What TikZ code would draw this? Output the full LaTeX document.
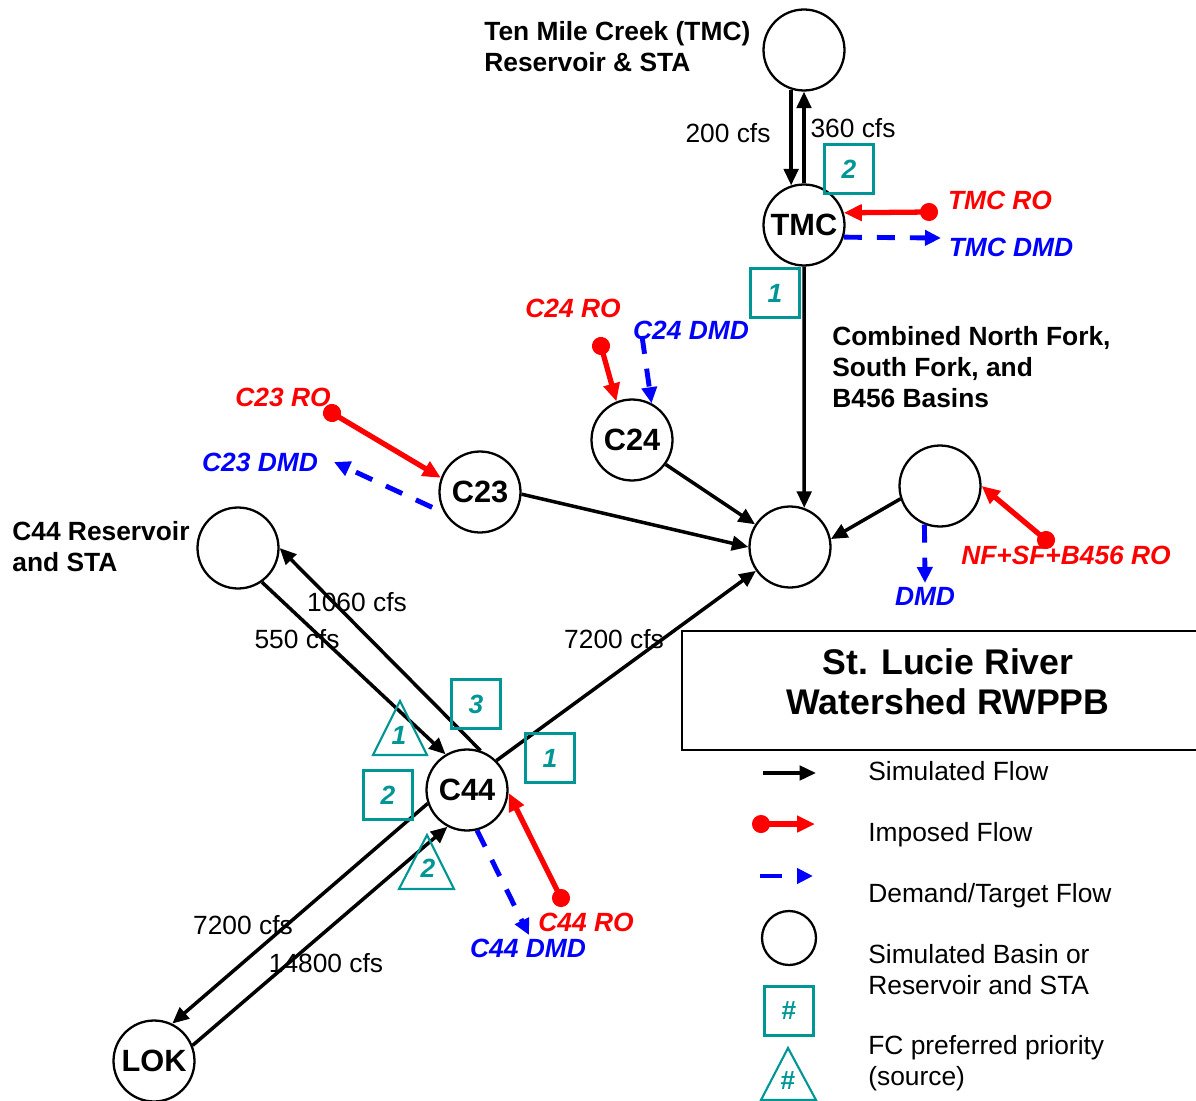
\documentclass[tikz,border=0pt]{standalone}
\usepackage{fontspec}
\setmainfont{Liberation Sans}
\usetikzlibrary{arrows.meta}
\definecolor{tealc}{RGB}{0,150,150}
\begin{document}
\begin{tikzpicture}[x=0.02cm,y=-0.02cm,
  basin/.style={circle,draw,line width=1.3pt,minimum size=1.62cm,inner sep=0pt,font=\fontsize{17.5}{20}\selectfont\bfseries},
  sim/.style={line width=2pt,-{Triangle[length=0.33cm,width=0.29cm]}},
  imp/.style={red,line width=3pt,shorten <=-0.18cm,{Circle[length=0.36cm]}-{Triangle[length=0.36cm,width=0.32cm]}},
  dmd/.style={blue,line width=2.8pt,dash pattern=on 0.36cm off 0.3cm,-{Triangle[length=0.32cm,width=0.3cm]}},
  lbl/.style={font=\fontsize{15}{17.6}\selectfont,inner sep=0pt,text height=0.716em,text depth=0pt,yshift=-1.6pt},
  mlbl/.style={font=\fontsize{15}{17.6}\selectfont,inner sep=0pt,align=left},
  blbl/.style={font=\fontsize{15}{17.6}\selectfont\bfseries,inner sep=0pt,align=left},
  rolbl/.style={text=red,font=\fontsize{15}{17.6}\selectfont\bfseries\itshape,inner sep=0pt,text height=0.716em,text depth=0pt,yshift=-1.6pt},
  dmdlbl/.style={text=blue,font=\fontsize{15}{17.6}\selectfont\bfseries\itshape,inner sep=0pt,text height=0.716em,text depth=0pt,yshift=-1.6pt},
  pbox/.style={draw=tealc,line width=1.2pt,minimum size=0.98cm,inner sep=0pt,text=tealc,font=\fontsize{15}{17}\selectfont\bfseries\itshape},
  ptri/.style={draw=tealc,line width=1.2pt},
  pnum/.style={text=tealc,inner sep=0pt,font=\fontsize{15}{17}\selectfont\bfseries\itshape}
]
\useasboundingbox (0,0) rectangle (1196,1101);

% basins
\node[basin] (tmcres) at (804,50) {};
\node[basin] (tmc) at (804,225) {TMC};
\node[basin] (c24) at (632,440) {C24};
\node[basin] (c23) at (480,492) {C23};
\node[basin] (junc) at (790,547) {};
\node[basin] (nf) at (940,486) {};
\node[basin] (c44res) at (238,548) {};
\node[basin] (c44) at (467,790) {C44};
\node[basin] (lok) at (154,1061) {LOK};

% texts
\node[blbl,anchor=west] (tmctxt) at (484,47) {Ten Mile Creek (TMC)\\Reservoir \& STA};
\node[blbl,anchor=west] (cnftxt) at (832,367) {Combined North Fork,\\South Fork, and\\B456 Basins};
\node[blbl,anchor=west] (c44txt) at (12,547) {C44 Reservoir\\and STA};

% TMC
\draw[sim] (tmcres.-108) -- (tmc.108);
\draw[sim] (tmc.90) -- (tmcres.-90);
\node[lbl] (l200) at (728,133) {200 cfs};
\node[lbl] (l360) at (853,128) {360 cfs};
\draw[sim] (tmc.-90) -- (junc.70);
\coordinate (tmcro) at (929,212);
\draw[imp] (tmcro) -- (tmc.17);
\node[rolbl] (tmcrot) at (1000,200) {TMC RO};
\coordinate (tmcd) at (941,238);
\draw[dmd] (tmc.-17) -- (tmcd);
\node[dmdlbl] (tmcdt) at (1011,247) {TMC DMD};
\node[pbox] (b2a) at (849,169) {2};
\node[pbox] (b1a) at (775,293) {1};

% C24
\coordinate (c24ro) at (601,346);
\draw[imp] (c24ro) -- (c24.112);
\coordinate (c24d) at (642,336);
\draw[dmd] (c24d) -- (c24.62);
\node[rolbl] (c24rot) at (573,308) {C24 RO};
\node[dmdlbl] (c24dt) at (691,330) {C24 DMD};
\draw[sim] (c24.-36) -- (junc.147);

% C23
\coordinate (c23ro) at (332,413);
\draw[imp] (c23ro) -- (c23.160);
\coordinate (c23d) at (334,462);
\draw[dmd,shorten <=0.26cm] (c23.210) -- (c23d);
\node[rolbl] (c23rot) at (283,397) {C23 RO};
\node[dmdlbl] (c23dt) at (260,462) {C23 DMD};
\draw[sim] (c23.-3) -- (junc.180);

% NF
\draw[sim] (nf.198) -- (junc.11);
\coordinate (nfro) at (1046,540);
\draw[imp] (nfro) -- (nf.0);
\coordinate (nfd) at (925,583);
\draw[dmd] (nf.-112) -- (nfd);
\node[rolbl] (nfrot) at (1066,555) {NF+SF+B456 RO};
\node[dmdlbl] (nfdt) at (925,596) {DMD};

% C44
\draw[sim] (c44res.-55) -- (c44.121);
\draw[sim] (c44.71) -- (c44res.0);
\draw[sim] (c44.45) -- (junc.215);
\draw[sim] (c44.199) -- (lok.64);
\draw[sim] (lok.22) -- (c44.242);
\node[lbl] (l1060) at (357,602) {1060 cfs};
\node[lbl] (l550) at (297,639) {550 cfs};
\node[lbl] (l7200a) at (614,639) {7200 cfs};
\node[lbl] (l7200b) at (243,925) {7200 cfs};
\node[lbl] (l14800) at (326,963) {14800 cfs};
\coordinate (c44ro) at (561,898);
\draw[imp] (c44ro) -- (c44.-4);
\coordinate (c44d) at (529,935);
\draw[dmd] (c44.-76) -- (c44d);
\node[rolbl] (c44rot) at (586,922) {C44 RO};
\node[dmdlbl] (c44dt) at (528,948) {C44 DMD};

% priorities near C44
\node[pbox] (b3) at (476,704) {3};
\node[pbox] (b1b) at (550,758) {1};
\node[pbox] (b2b) at (388,795) {2};
\draw[ptri] (373,755) -- (400,701) -- (427,755) -- cycle;
\node[pnum] (t1) at (399,735) {1};
\draw[ptri] (399,889) -- (427,835) -- (454,889) -- cycle;
\node[pnum] (t2) at (428,868) {2};

% title box
\draw[line width=1.4pt] (1196,631) -- (682,631) -- (682,750) -- (1196,750);
\node[font=\fontsize{20.3}{22.8}\selectfont\bfseries,align=center,inner sep=0pt] (title) at (948,682) {St. Lucie River\\Watershed RWPPB};

% legend
\coordinate (la1) at (763,773); \coordinate (la2) at (816,773);
\draw[sim] (la1) -- (la2);
\coordinate (lb1) at (761,824); \coordinate (lb2) at (815,824);
\draw[imp] (lb1) -- (lb2);
\coordinate (lc1) at (760,876); \coordinate (lc2) at (813,876);
\draw[dmd,dash pattern=on 0.44cm off 0.3cm] (lc1) -- (lc2);
\node[circle,draw,line width=1.3pt,minimum size=1.08cm,inner sep=0pt] (lcirc) at (789,938) {};
\node[pbox,font=\fontsize{15}{17}\selectfont\bfseries] (lbox) at (789,1011) {\#};
\draw[ptri] (761,1100) -- (788,1048) -- (816,1100) -- cycle;
\node[pnum,font=\fontsize{15}{17}\selectfont\bfseries] (ltri) at (788,1081) {\#};
\node[lbl,anchor=west] (lt1) at (868,771) {Simulated Flow};
\node[lbl,anchor=west] (lt2) at (868,832) {Imposed Flow};
\node[lbl,anchor=west] (lt3) at (868,893) {Demand/Target Flow};
\node[mlbl,anchor=west] (lt4) at (868,970) {Simulated Basin or\\Reservoir and STA};
\node[mlbl,anchor=west] (lt5) at (868,1063) {FC preferred priority\\(source)};
\end{tikzpicture}
\end{document}
